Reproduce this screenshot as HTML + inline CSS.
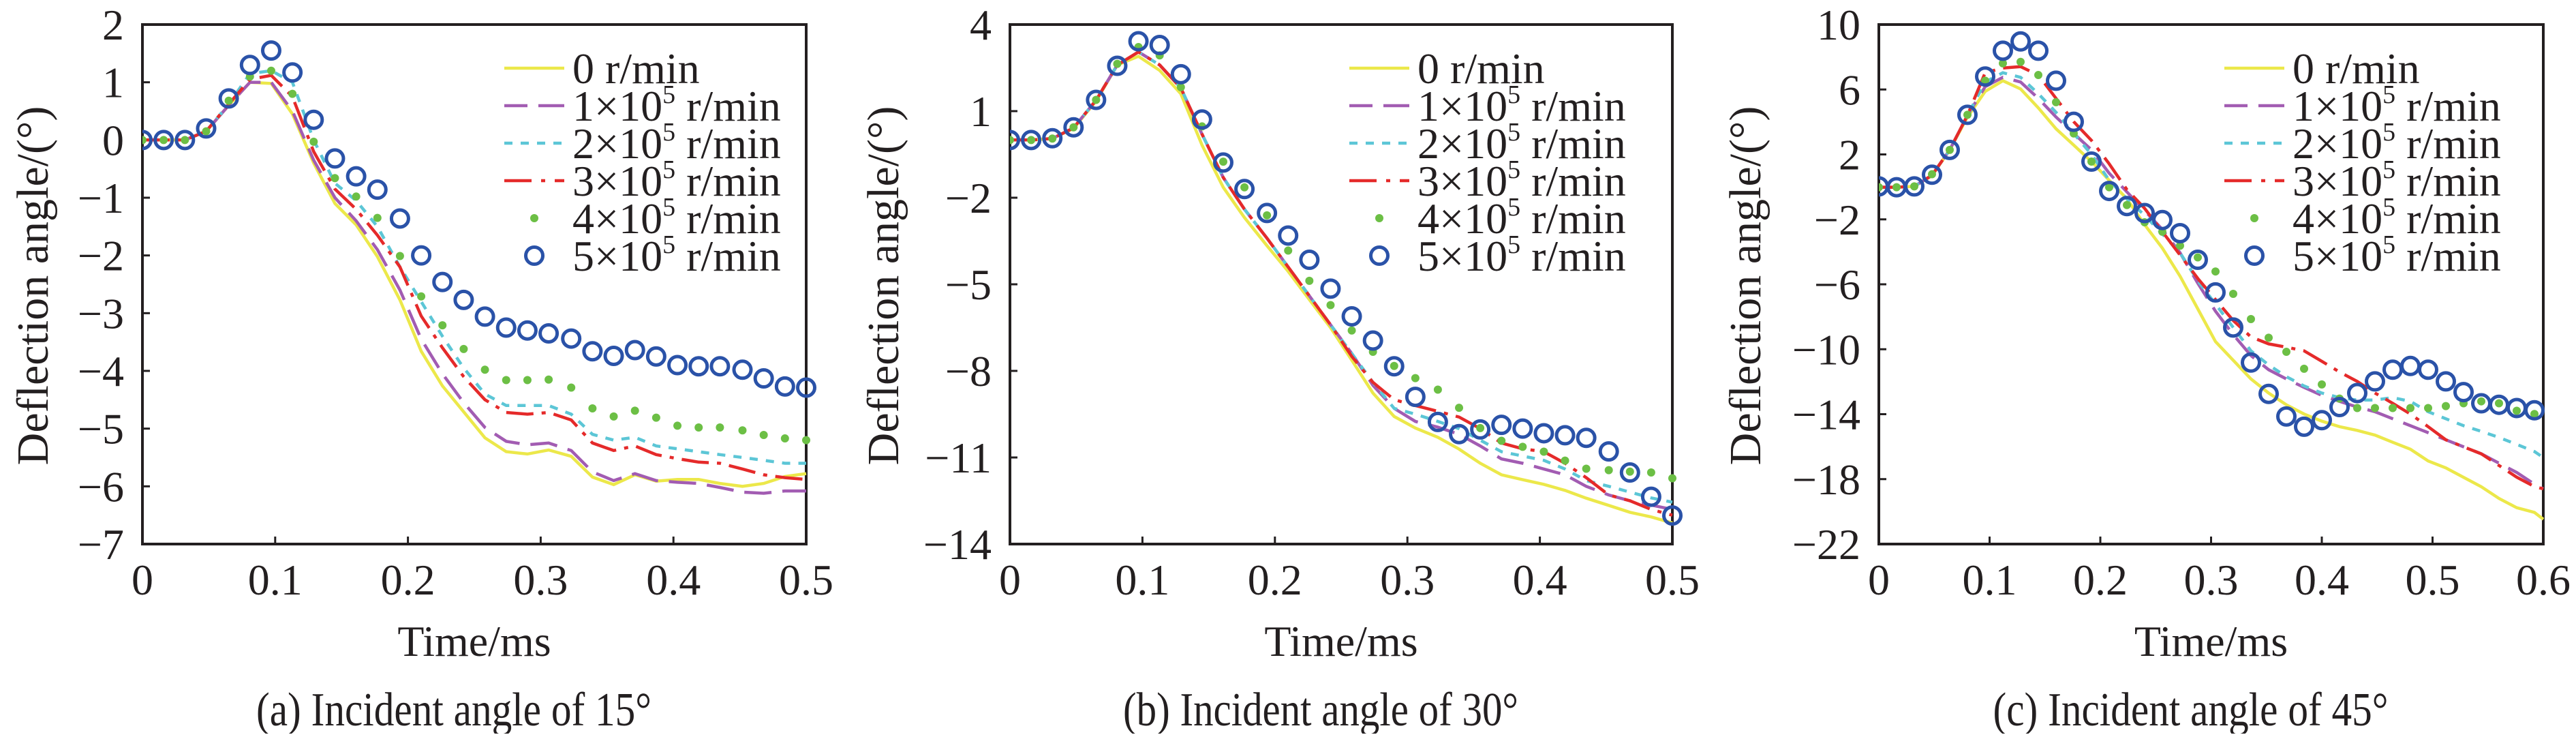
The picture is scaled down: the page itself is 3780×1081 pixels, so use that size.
<!DOCTYPE html>
<html><head><meta charset="utf-8"><style>
html,body{margin:0;padding:0;background:#fff;}
svg, svg text{font-family:"Liberation Serif","DejaVu Serif",serif;}
</style></head><body>
<svg id="fig" width="3780" height="1076" viewBox="0 0 3780 1076" xmlns="http://www.w3.org/2000/svg" font-family="Liberation Serif, DejaVu Serif, serif"></svg>
<script>
// ---------- data ----------
const timeAB = [0,0.016,0.032,0.048,0.065,0.081,0.097,0.113,0.129,0.145,0.161,0.177,0.194,0.210,0.226,0.242,0.258,0.274,0.290,0.306,0.323,0.339,0.355,0.371,0.387,0.403,0.419,0.435,0.452,0.468,0.484,0.5];
const timeC = [0,0.016,0.032,0.048,0.064,0.08,0.096,0.112,0.128,0.144,0.16,0.176,0.192,0.208,0.224,0.24,0.256,0.272,0.288,0.304,0.32,0.336,0.352,0.368,0.384,0.4,0.416,0.432,0.448,0.464,0.48,0.496,0.512,0.528,0.544,0.56,0.576,0.592,0.6];

const a_r0 = [0,0,0,0.15,0.6,1.0,0.98,0.45,-0.4,-1.1,-1.47,-2.02,-2.77,-3.66,-4.26,-4.71,-5.16,-5.4,-5.44,-5.37,-5.48,-5.84,-5.97,-5.8,-5.91,-5.88,-5.88,-5.95,-6.0,-5.95,-5.83,-5.78];
const a_r1 = [0,0,0,0.15,0.6,1.0,1.0,0.5,-0.35,-1.0,-1.4,-1.9,-2.6,-3.45,-4.05,-4.55,-4.98,-5.22,-5.28,-5.25,-5.38,-5.75,-5.9,-5.78,-5.9,-5.93,-5.95,-6.02,-6.1,-6.12,-6.08,-6.08];
const a_r2 = [0,0,0,0.15,0.62,1.15,1.2,1.0,0.0,-0.75,-1.05,-1.5,-2.2,-2.8,-3.4,-3.95,-4.4,-4.6,-4.6,-4.6,-4.75,-5.1,-5.2,-5.15,-5.3,-5.35,-5.4,-5.45,-5.5,-5.55,-5.6,-5.6];
const a_r3 = [0,0,0,0.15,0.62,1.05,1.12,0.75,-0.2,-0.85,-1.2,-1.65,-2.2,-3.05,-3.6,-4.1,-4.5,-4.72,-4.75,-4.72,-4.85,-5.25,-5.38,-5.3,-5.45,-5.52,-5.58,-5.6,-5.7,-5.8,-5.85,-5.88];
const a_r4 = [0,0,0,0.15,0.68,1.1,1.2,0.8,-0.03,-0.66,-0.98,-1.35,-2.01,-2.71,-3.21,-3.62,-3.98,-4.16,-4.16,-4.15,-4.29,-4.65,-4.79,-4.69,-4.81,-4.95,-4.98,-4.98,-5.03,-5.11,-5.17,-5.2];
const a_r5 = [0,0,0,0.2,0.72,1.3,1.55,1.17,0.35,-0.32,-0.63,-0.86,-1.36,-2.0,-2.46,-2.77,-3.06,-3.25,-3.3,-3.35,-3.44,-3.66,-3.74,-3.64,-3.75,-3.9,-3.92,-3.92,-3.98,-4.13,-4.27,-4.29];

const b_r0 = [0,0,0.05,0.4,1.35,2.6,2.9,2.41,1.6,-0.18,-1.64,-2.69,-3.66,-4.55,-5.53,-6.5,-7.63,-8.77,-9.58,-9.98,-10.3,-10.71,-11.2,-11.6,-11.77,-11.93,-12.14,-12.41,-12.66,-12.9,-13.06,-13.27];
const b_r1 = [0,0,0.05,0.42,1.38,2.6,3.05,2.6,1.8,0.2,-1.3,-2.4,-3.4,-4.4,-5.4,-6.4,-7.4,-8.5,-9.3,-9.75,-9.95,-10.2,-10.6,-11.05,-11.2,-11.4,-11.6,-12.0,-12.3,-12.5,-12.65,-12.8];
const b_r2 = [0,0,0.05,0.42,1.38,2.6,3.05,2.6,1.8,0.2,-1.3,-2.4,-3.4,-4.4,-5.4,-6.4,-7.4,-8.4,-9.3,-9.5,-9.75,-10.0,-10.4,-10.8,-10.95,-11.1,-11.4,-11.8,-12.0,-12.2,-12.4,-12.55];
const b_r3 = [0,0,0.05,0.42,1.38,2.6,3.05,2.6,1.8,0.2,-1.3,-2.4,-3.4,-4.4,-5.4,-6.4,-7.5,-8.4,-9.0,-9.2,-9.4,-9.6,-10.0,-10.5,-10.7,-10.8,-11.2,-11.7,-12.3,-12.5,-12.8,-13.0];
const b_r4 = [0,0,0.05,0.44,1.39,2.64,3.22,2.93,1.83,0.47,-0.75,-1.64,-2.61,-3.83,-4.88,-5.72,-6.6,-7.34,-7.83,-8.25,-8.65,-9.28,-9.98,-10.42,-10.63,-10.8,-11.11,-11.39,-11.44,-11.49,-11.52,-11.72];
const b_r5 = [0,0,0.06,0.44,1.39,2.57,3.42,3.29,2.28,0.71,-0.78,-1.7,-2.53,-3.31,-4.15,-5.15,-6.11,-6.95,-7.84,-8.9,-9.77,-10.19,-10.03,-9.87,-10.0,-10.16,-10.23,-10.32,-10.79,-11.52,-12.36,-13.01];

const c_r0 = [-0.02,-0.02,0.03,0.69,2.28,4.3,5.88,6.54,6.03,4.87,3.58,2.57,1.56,0.41,-0.74,-2.33,-3.77,-5.5,-7.51,-9.53,-10.68,-11.83,-12.7,-13.42,-13.99,-14.43,-14.77,-15.0,-15.29,-15.73,-16.16,-16.88,-17.31,-17.89,-18.47,-19.19,-19.76,-20.05,-20.47];
const c_r1 = [-0.02,-0.02,0.03,0.72,2.28,4.4,6.17,6.75,6.46,5.45,4.3,3.29,2.28,0.84,-0.31,-1.46,-2.62,-4.06,-5.93,-7.66,-9.1,-10.39,-11.26,-11.83,-12.35,-12.84,-13.21,-13.56,-13.85,-14.28,-14.71,-15.14,-15.58,-16.01,-16.44,-17.02,-17.59,-18.31,-18.6];
const c_r2 = [-0.02,-0.02,0.03,0.72,2.28,4.4,6.46,7.03,6.75,5.74,4.59,3.29,2.0,0.41,-0.74,-1.75,-2.9,-4.06,-5.78,-7.22,-8.66,-10.1,-10.97,-11.69,-12.26,-12.7,-12.98,-13.13,-13.13,-12.98,-13.21,-13.85,-14.28,-14.71,-15.06,-15.43,-15.86,-16.3,-16.67];
const c_r3 = [-0.02,-0.02,0.03,0.72,2.28,4.4,7.03,7.32,7.41,6.89,5.45,4.01,2.86,1.42,-0.17,-1.32,-2.76,-4.2,-5.64,-6.94,-8.23,-9.24,-9.67,-9.87,-10.1,-10.74,-11.4,-11.98,-12.7,-13.33,-13.99,-14.77,-15.58,-16.01,-16.44,-17.16,-17.88,-18.46,-18.6];
const c_r4 = [-0.02,-0.02,0.03,0.78,2.28,4.44,6.54,7.61,7.7,6.89,5.22,3.29,1.56,-0.02,-1.12,-2.18,-2.76,-3.62,-4.34,-5.21,-6.59,-8.14,-9.29,-10.16,-11.2,-12.17,-13.04,-13.62,-13.62,-13.62,-13.62,-13.62,-13.5,-13.33,-13.21,-13.33,-13.79,-13.99];
const c_r5 = [0.03,-0.02,0.03,0.75,2.28,4.44,6.8,8.39,8.96,8.39,6.54,4.01,1.56,-0.25,-1.18,-1.61,-2.04,-2.85,-4.49,-6.5,-8.66,-10.82,-12.75,-14.14,-14.77,-14.37,-13.56,-12.7,-11.98,-11.26,-11.03,-11.26,-11.98,-12.64,-13.33,-13.42,-13.62,-13.76];

const ticksA_x = [0,0.1,0.2,0.3,0.4,0.5];
const ticksA_y = [2,1,0,-1,-2,-3,-4,-5,-6,-7];
const ticksB_y = [4,1,-2,-5,-8,-11,-14];
const ticksC_x = [0,0.1,0.2,0.3,0.4,0.5,0.6];
const ticksC_y = [10,6,2,-2,-6,-10,-14,-18,-22];
const legendLabels = ["0 r/min","1","2","3","4","5"];
const captions = ["(a) Incident angle of 15°","(b) Incident angle of 30°","(c) Incident angle of 45°"];

// ---------- drawing ----------
const NS = "http://www.w3.org/2000/svg";
const FONT = "Liberation Serif, DejaVu Serif, serif";
const svg = document.getElementById("fig");
function mk(tag, parent){ const e=document.createElementNS(NS,tag); parent.appendChild(e); if(tag==="text") e.setAttribute("font-family",FONT); return e; }
const COL = {r0:"#ece84a", r1:"#a25cb2", r2:"#5cc6d6", r3:"#e52a2a", r4:"#6cbf45", r5:"#2a52a8"};
const FS = 64;

function panel(idx, L, R, T, B, xmax, ymin, ymax, xt, yt, ylabX, time, series, legX, key){
  const g = mk("g", svg);
  
  
  const sx = v => L + (v/xmax)*(R-L);
  const sy = v => T + (ymax - v)/(ymax-ymin)*(B-T);
  const cp = mk("clipPath", g); cp.setAttribute("id","clip"+key);
  const cr = mk("rect", cp); cr.setAttribute("x",L); cr.setAttribute("y",T-30); cr.setAttribute("width",R-L+20); cr.setAttribute("height",B-T+40);
  const fr = mk("rect", g);
  
  
  fr.setAttribute("x",L); fr.setAttribute("y",T); fr.setAttribute("width",R-L); fr.setAttribute("height",B-T);
  fr.setAttribute("fill","none"); fr.setAttribute("stroke","#231f20"); fr.setAttribute("stroke-width","4");
  xt.forEach(v=>{
    const x=sx(v);
    const tk=mk("line",g); tk.setAttribute("x1",x);tk.setAttribute("x2",x);tk.setAttribute("y1",B);tk.setAttribute("y2",B-11);tk.setAttribute("stroke","#231f20");tk.setAttribute("stroke-width","3");
    
    
    const t=mk("text",g); t.setAttribute("x",x); t.setAttribute("y",872); t.setAttribute("text-anchor","middle"); t.setAttribute("font-size",FS); t.setAttribute("fill","#231f20");
    
    
    t.textContent = String(v);
  });
  yt.forEach(v=>{
    const y=sy(v);
    const tk=mk("line",g); tk.setAttribute("x1",L);tk.setAttribute("x2",L+11);tk.setAttribute("y1",y);tk.setAttribute("y2",y);tk.setAttribute("stroke","#231f20");tk.setAttribute("stroke-width","3");
    
    
    const t=mk("text",g); t.setAttribute("x",L-27); t.setAttribute("y",y+22); t.setAttribute("text-anchor","end"); t.setAttribute("font-size",FS); t.setAttribute("fill","#231f20");
    
    
    t.textContent = v<0 ? "\u2212"+Math.abs(v) : String(v);
  });
  const xl=mk("text",g); xl.setAttribute("x",(L+R)/2); xl.setAttribute("y",962); xl.setAttribute("text-anchor","middle"); xl.setAttribute("font-size",FS); xl.setAttribute("fill","#231f20");
  
  
  xl.textContent="Time/ms";
  const yl=mk("text",g); yl.setAttribute("transform","translate("+ylabX+",419) rotate(-90)"); yl.setAttribute("text-anchor","middle"); yl.setAttribute("font-size",66); yl.setAttribute("fill","#231f20");
  
  
  yl.textContent="Deflection angle/(°)";
  const cap=mk("text",g); cap.setAttribute("x",(L+R)/2 - 30); cap.setAttribute("y",1064); cap.setAttribute("text-anchor","middle"); cap.setAttribute("font-size",70); cap.setAttribute("fill","#231f20");
  cap.setAttribute("textLength","580"); cap.setAttribute("lengthAdjust","spacingAndGlyphs");
  
  
  cap.textContent=captions[idx];

  const dg = mk("g", g); dg.setAttribute("clip-path","url(#clip"+key+")");
  const styles = [
    {c:COL.r0, d:null},
    {c:COL.r1, d:"40 16"},
    {c:COL.r2, d:"12 12"},
    {c:COL.r3, d:"40 12 6 12"}
  ];
  for(let s=0;s<4;s++){
    const vals = series[s];
    const p = mk("path", dg);
    
    
    p.setAttribute("d", vals.map((v,i)=>(i?"L":"M")+sx(time[i]).toFixed(1)+","+sy(v).toFixed(1)).join(""));
    p.setAttribute("fill","none"); p.setAttribute("stroke",styles[s].c); p.setAttribute("stroke-width","4.5");
    if(styles[s].d) p.setAttribute("stroke-dasharray",styles[s].d);
  }
  series[4].forEach((v,i)=>{
    const c=mk("circle",dg);
    
    
    c.setAttribute("cx",sx(time[i])); c.setAttribute("cy",sy(v)); c.setAttribute("r",6); c.setAttribute("fill",COL.r4);
  });
  series[5].forEach((v,i)=>{
    const c=mk("circle",dg);
    
    
    c.setAttribute("cx",sx(time[i])); c.setAttribute("cy",sy(v)); c.setAttribute("r",12.5); c.setAttribute("fill","none"); c.setAttribute("stroke",COL.r5); c.setAttribute("stroke-width","5");
  });

  const lg = mk("g", g);
  
  
  for(let k=0;k<6;k++){
    const by = 122 + k*55, cy = by-22;
    const e = mk("g", lg);
    
    
    if(k<4){
      const ln=mk("line",e); ln.setAttribute("x1",legX-100); ln.setAttribute("x2",legX-12); ln.setAttribute("y1",cy); ln.setAttribute("y2",cy);
      ln.setAttribute("stroke",styles[k].c); ln.setAttribute("stroke-width","4.5");
      if(k===1) ln.setAttribute("stroke-dasharray","34 16 38");
      if(k===2) ln.setAttribute("stroke-dasharray","12 12");
      if(k===3) ln.setAttribute("stroke-dasharray","40 14 6 14");
    } else if(k===4){
      const c=mk("circle",e); c.setAttribute("cx",legX-56); c.setAttribute("cy",cy); c.setAttribute("r",6); c.setAttribute("fill",COL.r4);
    } else {
      const c=mk("circle",e); c.setAttribute("cx",legX-56); c.setAttribute("cy",cy); c.setAttribute("r",12.5); c.setAttribute("fill","none"); c.setAttribute("stroke",COL.r5); c.setAttribute("stroke-width","5");
    }
    const t=mk("text",e); t.setAttribute("x",legX); t.setAttribute("y",by); t.setAttribute("font-size",FS); t.setAttribute("fill","#231f20");
    if(k===0){ t.textContent=legendLabels[0]; }
    else {
      const a=mk("tspan",t); a.textContent=legendLabels[k]+"×10";
      const sp=mk("tspan",t); sp.setAttribute("dy","-26"); sp.setAttribute("font-size","38"); sp.textContent="5";
      const b=mk("tspan",t); b.setAttribute("dy","26"); b.textContent=" r/min";
    }
  }
}

panel(0, 209, 1183, 36, 798, 0.5, -7, 2, ticksA_x, ticksA_y, 70, timeAB, [a_r0,a_r1,a_r2,a_r3,a_r4,a_r5], 840, "a");
panel(1, 1482, 2454, 36, 798, 0.5, -14, 4, ticksA_x, ticksB_y, 1318, timeAB, [b_r0,b_r1,b_r2,b_r3,b_r4,b_r5], 2080, "b");
panel(2, 2757, 3732, 36, 798, 0.6, -22, 10, ticksC_x, ticksC_y, 2583, timeC, [c_r0,c_r1,c_r2,c_r3,c_r4,c_r5], 3364, "c");
</script>
</body></html>
